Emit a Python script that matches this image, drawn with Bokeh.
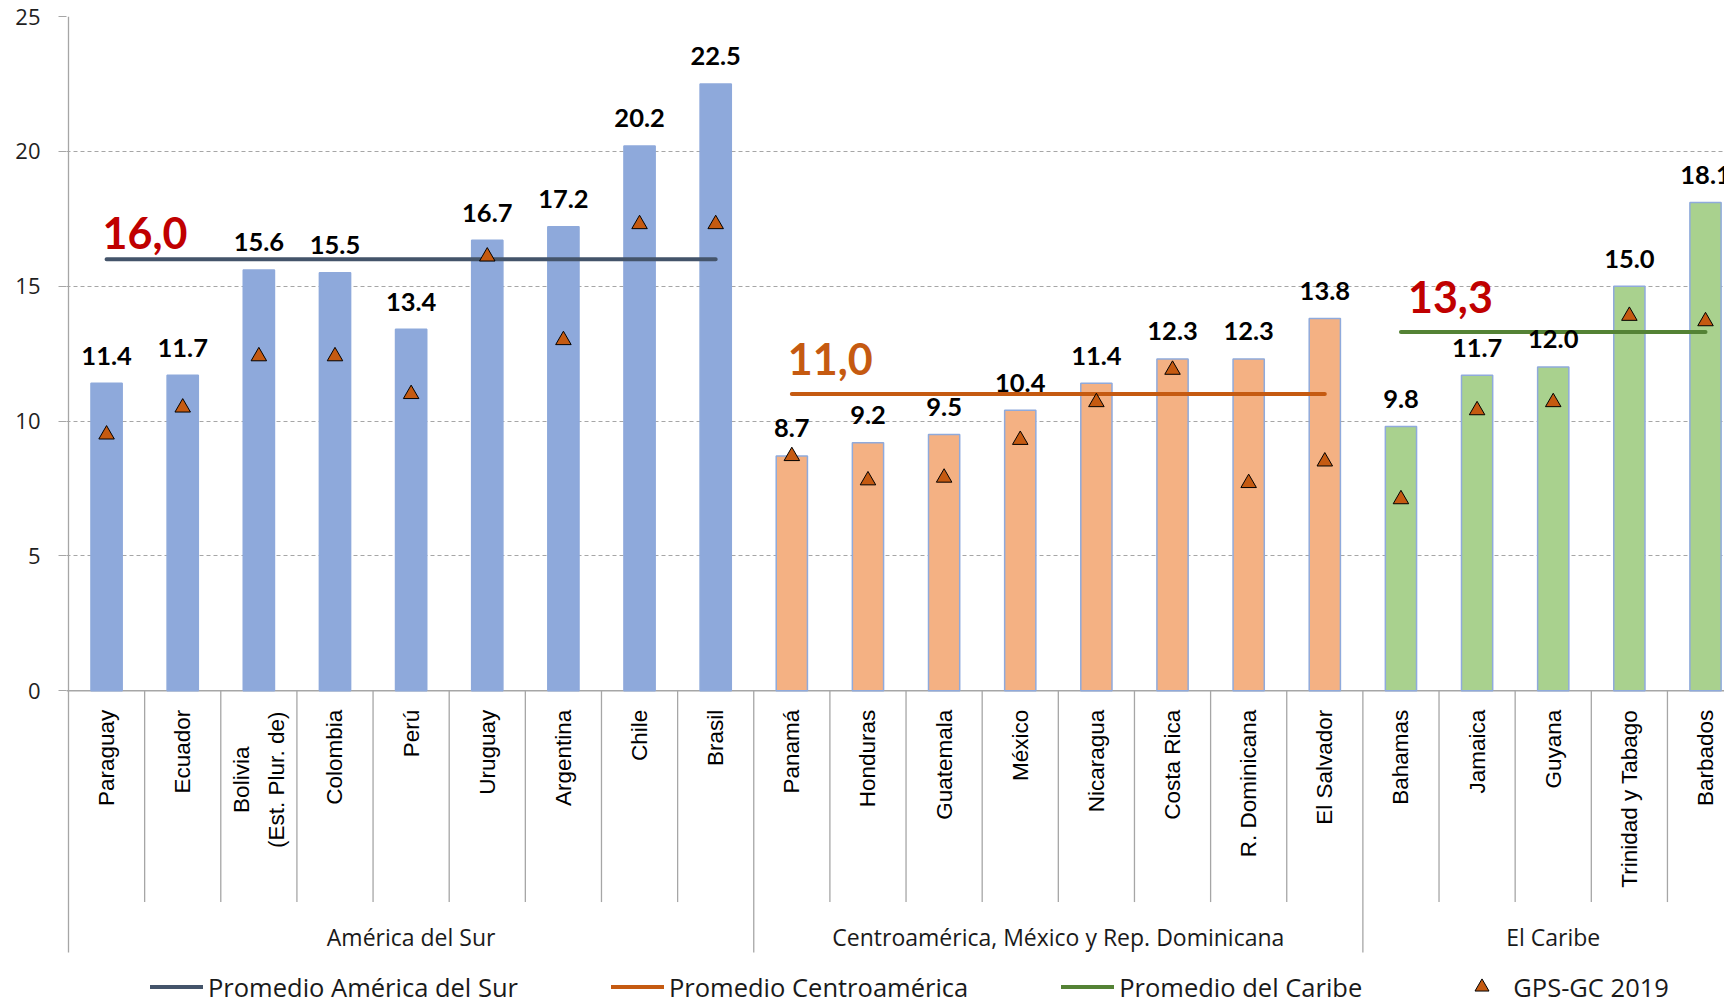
import math
from bokeh.plotting import figure
from bokeh.models import Range1d, FixedTicker, Legend, LegendItem
from bokeh.core.properties import value
from bokeh.embed import file_html
from bokeh.resources import INLINE

# ---------------- data ----------------
countries = ["Paraguay", "Ecuador", "Bolivia\n(Est. Plur. de)", "Colombia", "Perú",
             "Uruguay", "Argentina", "Chile", "Brasil",
             "Panamá", "Honduras", "Guatemala", "México", "Nicaragua", "Costa Rica",
             "R. Dominicana", "El Salvador",
             "Bahamas", "Jamaica", "Guyana", "Trinidad y Tabago", "Barbados"]
tax_burden = [11.4, 11.7, 15.6, 15.5, 13.4, 16.7, 17.2, 20.2, 22.5,
              8.7, 9.2, 9.5, 10.4, 11.4, 12.3, 12.3, 13.8,
              9.8, 11.7, 12.0, 15.0, 18.1]
gps_gc_2019 = [9.5, 10.5, 12.4, 12.4, 11.0, 16.1, 13.0, 17.3, 17.3,
               8.7, 7.8, 7.9, 9.3, 10.7, 11.9, 7.7, 8.5,
               7.1, 10.4, 10.7, 13.9, 13.7]
groups = ["América del Sur", "Centroamérica, México y Rep. Dominicana", "El Caribe"]
group_sizes = [9, 8, 5]
group_averages = [16.0, 11.0, 13.3]
average_legend = ["Promedio América del Sur", "Promedio Centroamérica", "Promedio del Caribe"]
gps_legend = "GPS-GC 2019"
y_ticks = [0, 5, 10, 15, 20, 25]

# ---------------- styles ----------------
bar_fill = ["#8EA9DB", "#F4B183", "#A9D18E"]
bar_line = ["#8EA9DB", "#8FAADC", "#8FAADC"]
avg_line_colors = ["#44546A", "#C55A11", "#548235"]
avg_text_colors = ["#C00000", "#C55A11", "#C00000"]
avg_text_dx = [-4, -4, 7]        # px from first bar centre
avg_text_dy = [26, 35, 34.6]     # px above the average line
GRAY = "#A6A6A6"

W, H = 1724, 1000
LEFT, TOP = 66, 16
PPX = 76.14     # px per category
PPU = 26.97     # px per y unit
x_start = -2 / PPX
x_end = x_start + (W - LEFT) / PPX
y_end = 25
y_start = y_end - (H - TOP) / PPU

p = figure(width=W, height=H, x_range=Range1d(x_start, x_end),
           y_range=Range1d(y_start, y_end), x_axis_location=None,
           output_backend="svg", toolbar_location=None,
           min_border_left=LEFT, min_border_right=0, min_border_top=TOP,
           min_border_bottom=0)
p.outline_line_color = None
p.background_fill_color = "white"
p.border_fill_color = "white"
p.xgrid.visible = False

yax = p.yaxis[0]
yax.ticker = FixedTicker(ticks=y_ticks)
yax.axis_line_color = None
yax.major_tick_line_color = GRAY
yax.major_tick_out = 8
yax.major_tick_in = 0
yax.minor_tick_line_color = None
yax.major_label_text_font = "Open Sans"
yax.major_label_text_font_size = "22px"
yax.major_label_text_color = "#1f1f1f"
yax.major_label_standoff = 18
p.ygrid.grid_line_color = GRAY
p.ygrid.grid_line_dash = "4 3"
p.ygrid.grid_line_width = 1

# group membership
group_of = []
starts = []
s = 0
for gi, n in enumerate(group_sizes):
    starts.append(s)
    group_of += [gi] * n
    s += n
centers = [i + 0.5 for i in range(len(countries))]

# category axis lines
p.segment(x0=[x_start], y0=[0], x1=[x_end], y1=[0], line_color=GRAY, line_width=1.3)
short_bottom = -(901.6 - 690.3) / PPU
long_bottom = -(952.0 - 690.3) / PPU
bounds = set(starts)
sx, sy0, sy1 = [], [], []
for b in range(0, len(countries)):
    sx.append(b)
    sy0.append(25 if b == 0 else 0)
    sy1.append(long_bottom if b in bounds else short_bottom)
p.segment(x0=sx, y0=sy0, x1=sx, y1=sy1, line_color=GRAY, line_width=1.3)

# bars
p.vbar(x=centers, top=tax_burden, width=0.41,
       fill_color=[bar_fill[g] for g in group_of],
       line_color=[bar_line[g] for g in group_of], line_width=1.5)

# averages
avg_renderers = []
for gi, n in enumerate(group_sizes):
    xs = centers[starts[gi]:starts[gi] + n]
    r = p.line(xs, [group_averages[gi]] * n, line_color=avg_line_colors[gi],
               line_width=4, line_cap="round")
    avg_renderers.append(r)
    p.text(x=[xs[0] + avg_text_dx[gi] / PPX],
           y=[group_averages[gi] + avg_text_dy[gi] / PPU],
           text=[f"{group_averages[gi]:.1f}".replace(".", ",")],
           text_font=value("Lato"), text_font_style="bold", text_font_size="43px",
           text_color=avg_text_colors[gi], text_align="left",
           text_baseline="alphabetic")

# value labels
p.text(x=centers, y=[v + 27.7 / PPU for v in tax_burden],
       text=[f"{v:.1f}" for v in tax_burden],
       text_font=value("Lato"), text_font_style="bold", text_font_size="25.5px",
       text_color="black", text_align="center", text_baseline="alphabetic")

# GPS-GC triangles
tri = p.scatter(x=centers, y=gps_gc_2019, marker="triangle", size=15.5,
                fill_color="#C55A11", line_color="black", line_width=1)

# category labels
single_x, single_y, single_t = [], [], []
multi_x, multi_y, multi_t = [], [], []
for c, name in zip(centers, countries):
    lines = name.split("\n")
    if len(lines) == 1:
        single_x.append(c); single_y.append(-19 / PPU); single_t.append(name)
    else:
        n = len(lines)
        for k, ln in enumerate(lines):
            multi_x.append(c + (k - (n - 1) / 2) * 35 / PPX)
            multi_y.append(-(19 + 70) / PPU)
            multi_t.append(ln)
label_style = dict(text_font=value("Liberation Sans"), text_font_size="22.5px",
                   text_color="black", angle=math.pi / 2, text_baseline="middle")
p.text(x=single_x, y=single_y, text=single_t, text_align="right", **label_style)
p.text(x=multi_x, y=multi_y, text=multi_t, text_align="center", **label_style)

# group labels
p.text(x=[starts[g] + group_sizes[g] / 2 for g in range(len(groups))],
       y=[-(936.3 - 690.3) / PPU] * len(groups), text=groups,
       text_font=value("Open Sans"), text_font_size="23px", text_color="#1a1a1a",
       text_align="center", text_baseline="alphabetic")

# legend
items = [LegendItem(label=average_legend[g], renderers=[avg_renderers[g]]) for g in range(3)]
items.append(LegendItem(label=gps_legend, renderers=[tri]))
legend = Legend(items=items, orientation="horizontal", location=(84, -4),
                glyph_width=53, glyph_height=35, label_standoff=5, spacing=93,
                padding=0, margin=0, border_line_color=None,
                background_fill_alpha=0, label_text_font="Open Sans",
                label_text_font_size="25.5px", label_text_color="#1a1a1a")
p.add_layout(legend, "center")

open("out.html", "w").write(file_html(p, INLINE))
